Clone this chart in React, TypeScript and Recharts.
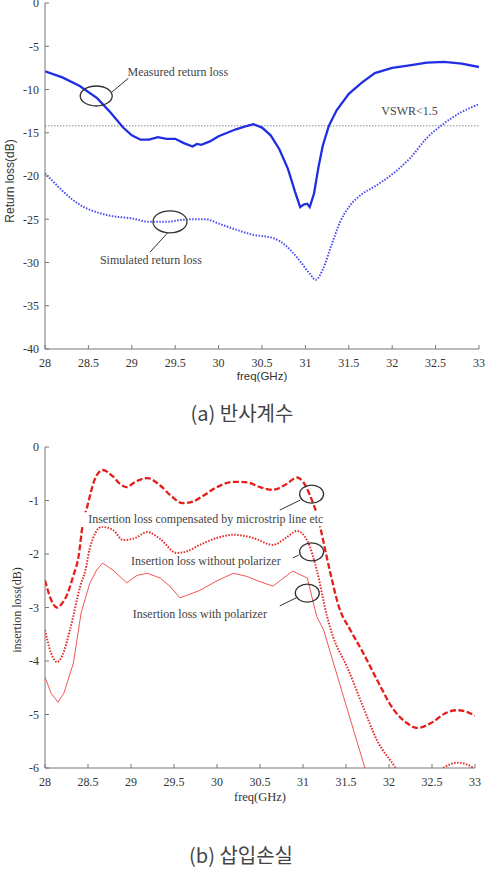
import React from "react";
import {
  LineChart,
  Line,
  XAxis,
  YAxis,
  ReferenceLine,
  ReferenceDot,
} from "recharts";

// (a) return loss, dB
const measuredFreq = [
  28.0, 28.2, 28.4, 28.6, 28.75, 28.9, 29.0, 29.1, 29.2, 29.3, 29.4, 29.5, 29.6,
  29.7, 29.75, 29.8, 29.9, 30.0, 30.1, 30.2, 30.3, 30.4, 30.5, 30.6, 30.7, 30.8,
  30.88, 30.94, 30.98, 31.02, 31.05, 31.1, 31.15, 31.2, 31.27, 31.36, 31.5,
  31.65, 31.8, 32.0, 32.2, 32.4, 32.6, 32.8, 33.0,
];
const measuredLoss = [
  -7.9, -8.6, -9.6, -11.0, -12.6, -14.4, -15.3, -15.8, -15.8, -15.5, -15.7,
  -15.7, -16.2, -16.6, -16.3, -16.4, -16.0, -15.4, -15.0, -14.6, -14.3, -14.0,
  -14.4, -15.3, -16.9, -19.2, -21.8, -23.6, -23.3, -23.2, -23.6, -22.0, -19.0,
  -16.5, -14.2, -12.4, -10.5, -9.2, -8.1, -7.5, -7.2, -6.9, -6.8, -7.0, -7.4,
];

const simulatedFreq = [
  28.0, 28.1, 28.2, 28.3, 28.45, 28.6, 28.75, 29.0, 29.2, 29.4, 29.55, 29.7,
  29.85, 30.0, 30.2, 30.4, 30.6, 30.7, 30.85, 30.95, 31.05, 31.12, 31.2, 31.3,
  31.4, 31.5, 31.65, 31.8, 32.0, 32.2, 32.4, 32.6, 32.8, 33.0,
];
const simulatedLoss = [
  -19.7, -20.7, -21.7, -22.6, -23.6, -24.2, -24.6, -24.9, -25.3, -25.3, -25.1,
  -25.0, -25.0, -25.5, -26.2, -26.8, -27.1, -27.5, -28.8, -30.0, -31.3, -32.0,
  -30.8, -28.0, -25.3, -23.6, -22.1, -21.2, -19.8, -18.0, -15.6, -13.9, -12.6,
  -11.7,
];

const vswrLimit = -14.2;

// (b) insertion loss, dB
const compFreq = [
  28.0, 28.07, 28.14, 28.2, 28.26, 28.33, 28.39, 28.44, 28.49, 28.58, 28.67,
  28.79, 28.88, 28.95, 29.05, 29.19, 29.34, 29.47, 29.6, 29.72, 29.85, 30.0,
  30.19, 30.35, 30.5, 30.65, 30.8, 30.93, 31.0, 31.08, 31.16, 31.31, 31.42,
  31.55, 31.7, 31.86, 32.05, 32.2, 32.33, 32.5, 32.65, 32.79, 32.9, 33.0,
];
const compLoss = [
  -2.49, -2.85, -3.0, -2.92, -2.75, -2.4, -2.05, -1.43, -1.12, -0.6, -0.43,
  -0.55, -0.7, -0.75, -0.65, -0.58, -0.72, -0.92, -1.05, -1.02, -0.9, -0.75,
  -0.65, -0.66, -0.75, -0.8, -0.7, -0.57, -0.65, -0.9, -1.25, -2.3, -3.0, -3.42,
  -3.85, -4.35, -4.9, -5.15, -5.25, -5.15, -4.98, -4.92, -4.95, -5.02,
];

const noPolFreq = [
  28.0, 28.07, 28.14, 28.2, 28.29, 28.41, 28.47, 28.52, 28.66, 28.79, 28.91,
  29.05, 29.19, 29.34, 29.53, 29.65, 29.8, 30.0, 30.19, 30.42, 30.65, 30.8,
  30.93, 31.05, 31.16, 31.28, 31.35, 31.51, 31.7, 31.86, 32.07, 32.2, 32.4,
  32.55, 32.63, 32.8, 32.98, 33.0,
];
const noPolLoss = [
  -3.42, -3.85, -4.02, -3.9, -3.42, -2.6, -2.3, -1.9, -1.49, -1.55, -1.74,
  -1.7, -1.59, -1.72, -1.98, -1.95, -1.83, -1.7, -1.64, -1.7, -1.83, -1.7,
  -1.57, -1.75, -2.3, -3.17, -3.55, -4.1, -4.86, -5.48, -5.98, -6.3, -6.4,
  -6.1, -6.0, -5.9, -6.0, -6.05,
];

const polFreq = [
  28.0, 28.07, 28.15, 28.22, 28.33, 28.42, 28.52, 28.6, 28.67, 28.79, 28.95,
  29.07, 29.19, 29.34, 29.45, 29.57, 29.8, 30.0, 30.19, 30.35, 30.47, 30.65,
  30.88, 31.05, 31.16, 31.24, 31.47, 31.72, 31.9,
];
const polLoss = [
  -4.3, -4.6, -4.77, -4.6, -4.04, -3.1, -2.55, -2.3, -2.17, -2.3, -2.54, -2.4,
  -2.36, -2.45, -2.6, -2.82, -2.68, -2.5, -2.36, -2.42, -2.5, -2.6, -2.32,
  -2.45, -3.17, -3.42, -4.66, -6.0, -7.0,
];

const freqTicks = [28, 28.5, 29, 29.5, 30, 30.5, 31, 31.5, 32, 32.5, 33];
const returnTicks = [0, -5, -10, -15, -20, -25, -30, -35, -40];
const insertionTicks = [0, -1, -2, -3, -4, -5, -6];

const zip = (fs: number[], vs: number[]) => fs.map((f, i) => ({ f, v: vs[i] }));

const serif = "'Liberation Serif', 'DejaVu Serif', serif";
const sans = "'Liberation Sans', Arial, sans-serif";
const axisColor = "#777";

const XTick = (p: any) => (
  <text
    x={p.x}
    y={p.y}
    dy="0.71em"
    textAnchor="middle"
    fontFamily={serif}
    fontSize={12}
    fill="#333"
  >
    {p.payload.value}
  </text>
);

const YTick = (p: any) => (
  <text
    x={p.x}
    y={p.y}
    dy="0.355em"
    textAnchor="end"
    fontFamily={serif}
    fontSize={12}
    fill="#333"
  >
    {p.payload.value}
  </text>
);

const ellipseShape = (rx: number, ry: number) => (p: any) => (
  <ellipse
    cx={p.cx}
    cy={p.cy}
    rx={rx}
    ry={ry}
    fill="none"
    stroke="#333"
    strokeWidth={1.3}
  />
);

const noteShape = (text: string, w: number, backed = false) => (p: any) => (
  <g>
    {backed && (
      <rect x={p.cx - w / 2} y={p.cy - 7} width={w} height={14} fill="#fff" />
    )}
    <text
      x={p.cx}
      y={p.cy}
      textAnchor="middle"
      dominantBaseline="central"
      fontFamily={serif}
      fontSize={12}
      fill="#444"
    >
      {text}
    </text>
  </g>
);

// four axes so the plot gets a full box with inward ticks
const frameAxes = (yTicks: number[], yDomain: [number, number]) => [
  <XAxis
    key="xb"
    type="number"
    dataKey="f"
    domain={[28, 33]}
    ticks={freqTicks}
    interval={0}
    height={30}
    tickSize={-4}
    tickMargin={13}
    stroke={axisColor}
    tick={XTick}
    allowDataOverflow
  />,
  <XAxis
    key="xt"
    xAxisId="top"
    orientation="top"
    type="number"
    dataKey="f"
    domain={[28, 33]}
    ticks={freqTicks}
    interval={0}
    height={0}
    tickSize={-4}
    tick={false}
    stroke={axisColor}
  />,
  <YAxis
    key="yl"
    type="number"
    domain={yDomain}
    ticks={yTicks}
    interval={0}
    width={40}
    tickSize={-4}
    tickMargin={10}
    stroke={axisColor}
    tick={YTick}
    allowDataOverflow
  />,
  <YAxis
    key="yr"
    yAxisId="right"
    orientation="right"
    type="number"
    domain={yDomain}
    ticks={yTicks}
    interval={0}
    width={0}
    tickSize={-4}
    tick={false}
    stroke={axisColor}
  />,
];

const abs = (extra: React.CSSProperties): React.CSSProperties => ({
  position: "absolute",
  whiteSpace: "nowrap",
  ...extra,
});

export default function App() {
  const measured = zip(measuredFreq, measuredLoss);
  const simulated = zip(simulatedFreq, simulatedLoss);
  const comp = zip(compFreq, compLoss);
  const noPol = zip(noPolFreq, noPolLoss);
  const pol = zip(polFreq, polLoss);

  return (
    <div
      style={{
        position: "absolute",
        left: 0,
        top: 0,
        width: 491,
        height: 872,
        background: "#fff",
        overflow: "hidden",
      }}
    >
      <div style={abs({ left: 0, top: 0 })}>
        <LineChart
          width={491}
          height={400}
          margin={{ top: 3, right: 12, bottom: 21, left: 5 }}
          style={{ overflow: "visible" }}
        >
          {frameAxes(returnTicks, [-40, 0])}
          <ReferenceLine
            y={vswrLimit}
            stroke="#888"
            strokeDasharray="1.5 1.5"
          />
          <Line
            data={simulated}
            dataKey="v"
            type="monotone"
            stroke="#4b4cf2"
            strokeWidth={2}
            strokeDasharray="1.5 1.5"
            dot={false}
            isAnimationActive={false}
          />
          <Line
            data={measured}
            dataKey="v"
            type="linear"
            stroke="#1f2ee3"
            strokeWidth={2.3}
            dot={false}
            isAnimationActive={false}
          />
          <ReferenceDot x={28.59} y={-10.75} shape={ellipseShape(16, 10)} />
          <ReferenceLine
            segment={[
              { x: 28.77, y: -10.3 },
              { x: 28.96, y: -8.7 },
            ]}
            stroke="#333"
          />
          <ReferenceDot x={29.53} y={-8.0} shape={noteShape("Measured return loss", 118)} />
          <ReferenceDot x={29.44} y={-25.3} shape={ellipseShape(17, 11)} />
          <ReferenceLine
            segment={[
              { x: 29.41, y: -26.6 },
              { x: 29.21, y: -28.8 },
            ]}
            stroke="#333"
          />
          <ReferenceDot x={29.22} y={-29.7} shape={noteShape("Simulated return loss", 120)} />
          <ReferenceDot x={32.2} y={-12.5} shape={noteShape("VSWR<1.5", 66)} />
        </LineChart>
      </div>

      <div
        style={abs({
          left: -50,
          top: 174,
          width: 120,
          height: 14,
          lineHeight: "14px",
          textAlign: "center",
          transform: "rotate(-90deg)",
          fontFamily: sans,
          fontSize: 12,
          color: "#333",
        })}
      >
        Return loss(dB)
      </div>
      <div
        style={abs({
          left: 212,
          top: 369,
          width: 100,
          lineHeight: "14px",
          textAlign: "center",
          fontFamily: sans,
          fontSize: 11.5,
          color: "#333",
        })}
      >
        freq(GHz)
      </div>
      <div
        style={abs({
          left: 142,
          top: 399,
          width: 200,
          lineHeight: "28px",
          textAlign: "center",
          fontFamily: "'Noto Sans CJK KR', sans-serif",
          fontSize: 20,
          color: "#444",
        })}
      >
        (a)  반사계수
      </div>

      <div style={abs({ left: 0, top: 440 })}>
        <LineChart
          width={491}
          height={360}
          margin={{ top: 7, right: 16, bottom: 2, left: 5 }}
          style={{ overflow: "visible" }}
        >
          {frameAxes(insertionTicks, [-6, 0])}
          <Line
            data={pol}
            dataKey="v"
            type="linear"
            stroke="#f25555"
            strokeWidth={1}
            dot={false}
            isAnimationActive={false}
          />
          <Line
            data={noPol}
            dataKey="v"
            type="monotone"
            stroke="#e42a26"
            strokeWidth={2}
            strokeDasharray="1.5 1.5"
            dot={false}
            isAnimationActive={false}
          />
          <Line
            data={comp}
            dataKey="v"
            type="monotone"
            stroke="#e41e1a"
            strokeWidth={2.3}
            strokeDasharray="6 2.5"
            dot={false}
            isAnimationActive={false}
          />
          <ReferenceDot x={31.1} y={-0.88} shape={ellipseShape(12, 9)} />
          <ReferenceLine
            segment={[
              { x: 30.97, y: -0.99 },
              { x: 30.73, y: -1.18 },
            ]}
            stroke="#333"
          />
          <ReferenceDot
            x={29.87}
            y={-1.35}
            shape={noteShape("Insertion loss compensated by microstrip line etc", 276, true)}
          />
          <ReferenceDot x={31.1} y={-1.96} shape={ellipseShape(12, 9)} />
          <ReferenceLine
            segment={[
              { x: 30.95, y: -2.02 },
              { x: 30.81, y: -2.13 },
            ]}
            stroke="#333"
          />
          <ReferenceDot
            x={29.87}
            y={-2.13}
            shape={noteShape("Insertion loss without polarizer", 174, true)}
          />
          <ReferenceDot x={31.05} y={-2.73} shape={ellipseShape(12, 9)} />
          <ReferenceLine
            segment={[
              { x: 30.92, y: -2.82 },
              { x: 30.73, y: -2.97 },
            ]}
            stroke="#333"
          />
          <ReferenceDot
            x={29.8}
            y={-3.12}
            shape={noteShape("Insertion loss with polarizer", 156, true)}
          />
        </LineChart>
      </div>

      <div
        style={abs({
          left: -43,
          top: 603,
          width: 120,
          height: 14,
          lineHeight: "14px",
          textAlign: "center",
          transform: "rotate(-90deg)",
          fontFamily: serif,
          fontSize: 12,
          color: "#333",
        })}
      >
        insertion loss(dB)
      </div>
      <div
        style={abs({
          left: 210,
          top: 790,
          width: 100,
          lineHeight: "14px",
          textAlign: "center",
          fontFamily: serif,
          fontSize: 12.5,
          color: "#333",
        })}
      >
        freq(GHz)
      </div>
      <div
        style={abs({
          left: 141,
          top: 841,
          width: 200,
          lineHeight: "28px",
          textAlign: "center",
          fontFamily: "'Noto Sans CJK KR', sans-serif",
          fontSize: 20,
          color: "#444",
        })}
      >
        (b)  삽입손실
      </div>
    </div>
  );
}
